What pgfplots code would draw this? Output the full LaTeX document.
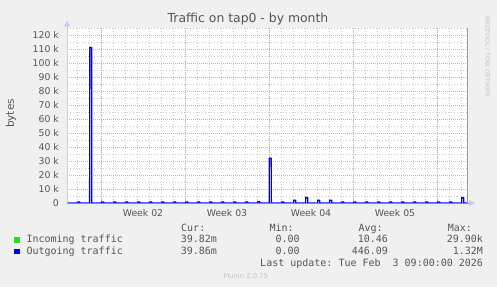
\documentclass[border=0pt]{standalone}
\usepackage{pgfplots}
\pgfplotsset{compat=1.18}
\usepackage{fontspec}
\setmainfont{DejaVu Sans}
\setmonofont{DejaVu Sans Mono}
\definecolor{bgc}{HTML}{F0F0F0}
\definecolor{txt}{HTML}{555555}
\definecolor{mgrid}{HTML}{E6A6A6}
\definecolor{ngrid}{HTML}{C8C8C8}
\definecolor{axc}{HTML}{C8C8FF}
\definecolor{axb}{HTML}{8080FF}
\definecolor{inc}{HTML}{00CC00}
\definecolor{incsq}{HTML}{22DD22}
\definecolor{outc}{HTML}{0000FF}
\definecolor{frm}{HTML}{999999}
\definecolor{faint}{HTML}{C4C4C4}
\begin{document}
\begin{tikzpicture}[x=1pt,y=1pt]
\fill[bgc] (0,0) rectangle (497,287);
\useasboundingbox (0,0) rectangle (497,287);
\begin{axis}[
  at={(67pt,84pt)}, anchor=south west, scale only axis,
  width=400pt, height=175pt,
  xmin=0, xmax=33.3333, ymin=0, ymax=125000,
  scaled y ticks=false, scaled x ticks=false,
  axis background/.style={fill=white},
  axis line style={draw=none},
  major tick length=0pt, minor tick length=0pt,
  xtick={6.3333,13.3333,20.3333,27.3333},
  xticklabels={Week 02,Week 03,Week 04,Week 05},
  minor xtick={0.8333,1.8333,2.8333,3.8333,4.8333,5.8333,6.8333,7.8333,8.8333,9.8333,10.8333,11.8333,12.8333,13.8333,14.8333,15.8333,16.8333,17.8333,18.8333,19.8333,20.8333,21.8333,22.8333,23.8333,24.8333,25.8333,26.8333,27.8333,28.8333,29.8333,30.8333,31.8333,32.8333},
  extra x ticks={2.8333,9.8333,16.8333,23.8333,30.8333},
  extra x tick labels={},
  extra x tick style={grid=major},
  xmajorgrids=false, xminorgrids=true,
  ytick={0,10000,20000,30000,40000,50000,60000,70000,80000,90000,100000,110000,120000},
  yticklabels={0,10 k,20 k,30 k,40 k,50 k,60 k,70 k,80 k,90 k,100 k,110 k,120 k},
  minor ytick={5000,15000,25000,35000,45000,55000,65000,75000,85000,95000,105000,115000,125000},
  ymajorgrids=true, yminorgrids=true,
  major grid style={mgrid, line width=0.8pt, dash pattern=on 1pt off 1pt},
  minor grid style={ngrid, line width=0.8pt, dash pattern=on 1pt off 2pt},
  yticklabel style={font=\fontsize{9.3}{11}\selectfont, text=txt, anchor=east, inner sep=0pt, xshift=-8pt},
  xticklabel style={font=\fontsize{9.3}{11}\selectfont, text=txt, anchor=base, inner sep=0pt, yshift=-13.5pt},
  clip=false,
]
\addplot[inc, line width=1pt] coordinates {(0,0) (33.3333,0)};
\addplot[outc, line width=1.3pt] coordinates {
(0,0)
(0.885,0) (0.9,700) (1.05,700) (1.065,0)
(1.885,0) (1.9,111000) (2.05,111000) (2.065,0)
(2.885,0) (2.9,700) (3.05,700) (3.065,0)
(3.885,0) (3.9,700) (4.05,700) (4.065,0)
(4.885,0) (4.9,700) (5.05,700) (5.065,0)
(5.885,0) (5.9,700) (6.05,700) (6.065,0)
(6.885,0) (6.9,700) (7.05,700) (7.065,0)
(7.885,0) (7.9,700) (8.05,700) (8.065,0)
(8.885,0) (8.9,700) (9.05,700) (9.065,0)
(9.885,0) (9.9,700) (10.05,700) (10.065,0)
(10.885,0) (10.9,700) (11.05,700) (11.065,0)
(11.885,0) (11.9,700) (12.05,700) (12.065,0)
(12.885,0) (12.9,700) (13.05,700) (13.065,0)
(13.885,0) (13.9,700) (14.05,700) (14.065,0)
(14.885,0) (14.9,700) (15.05,700) (15.065,0)
(15.885,0) (15.9,900) (16.05,900) (16.065,0)
(16.85,0) (16.865,32000) (17.015,32000) (17.03,0)
(17.885,0) (17.9,700) (18.05,700) (18.065,0)
(18.885,0) (18.9,1900) (19.05,1900) (19.065,0)
(19.885,0) (19.9,4000) (20.05,4000) (20.065,0)
(20.885,0) (20.9,1900) (21.05,1900) (21.065,0)
(21.885,0) (21.9,1900) (22.05,1900) (22.065,0)
(22.885,0) (22.9,700) (23.05,700) (23.065,0)
(23.885,0) (23.9,700) (24.05,700) (24.065,0)
(24.885,0) (24.9,700) (25.05,700) (25.065,0)
(25.885,0) (25.9,700) (26.05,700) (26.065,0)
(26.885,0) (26.9,700) (27.05,700) (27.065,0)
(27.885,0) (27.9,700) (28.05,700) (28.065,0)
(28.885,0) (28.9,700) (29.05,700) (29.065,0)
(29.885,0) (29.9,700) (30.05,700) (30.065,0)
(30.885,0) (30.9,700) (31.05,700) (31.065,0)
(31.885,0) (31.9,700) (32.05,700) (32.065,0)
(32.885,0) (32.9,3800) (33.05,3800) (33.065,0)
(33.3333,0)
};
\end{axis}
% axes decorations
\draw[frm, line width=1pt] (467,84) -- (467,259);
\draw[axc, line width=1pt] (67,84) -- (67,261);
\fill[axc] (67,266.5) -- (64,260.5) -- (70,260.5) -- cycle;
\draw[axb, line width=1pt] (67,84) -- (469,84);
\fill[axc] (475,84) -- (469,87) -- (469,81) -- cycle;
% title and labels
\node[anchor=base, font=\fontsize{12.4}{14}\selectfont, text=txt, inner sep=0pt] at (248,264.5) {Traffic on tap0 - by month};
\node[rotate=90, font=\fontsize{10.5}{12}\selectfont, text=txt, inner sep=0pt] at (11,173.5) {bytes};
\node[rotate=-90, font=\fontsize{6.2}{7}\selectfont, text=faint, inner sep=0pt] at (487.5,230.5) {RRDTOOL / TOBI OETIKER};
% legend
\fill[incsq] (14,44.5) rectangle (19.5,50);
\fill[outc] (14,33) rectangle (19.5,38.5);
\begin{scope}[every node/.style={font=\ttfamily\fontsize{10}{12}\selectfont, text=txt, inner sep=0pt}]
\node[anchor=base west] at (26.3,44.5) {Incoming traffic};
\node[anchor=base west] at (26.3,32.5) {Outgoing traffic};
\node[anchor=base west] at (181,55.5) {Cur:};
\node[anchor=base west] at (269.3,55.5) {Min:};
\node[anchor=base west] at (358.3,55.5) {Avg:};
\node[anchor=base west] at (447.7,55.5) {Max:};
\node[anchor=base east] at (217.2,44.5) {39.82m};
\node[anchor=base east] at (217.2,32.5) {39.86m};
\node[anchor=base east] at (299.8,44.5) {0.00};
\node[anchor=base east] at (299.8,32.5) {0.00};
\node[anchor=base east] at (388.2,44.5) {10.46};
\node[anchor=base east] at (388.2,32.5) {446.09};
\node[anchor=base east] at (483.2,44.5) {29.90k};
\node[anchor=base east] at (483.2,32.5) {1.32M};
\node[anchor=base east] at (483.2,20.5) {Last update: Tue Feb\ \ 3 09:00:00 2026};
\end{scope}
\node[anchor=base west, font=\fontsize{6.8}{8}\selectfont, text=faint, inner sep=0pt] at (223.3,9) {Munin 2.0.75};
\end{tikzpicture}
\end{document}
